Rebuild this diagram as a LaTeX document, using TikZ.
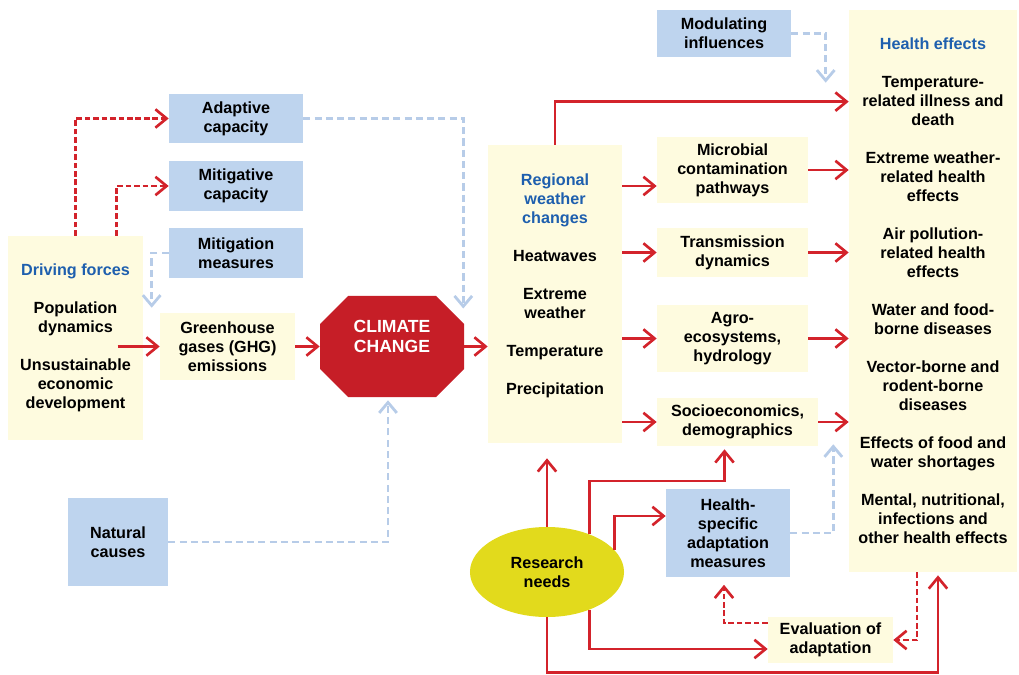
\documentclass[tikz,border=0pt]{standalone}
\usepackage{fontspec}
\setmainfont{Liberation Sans}
\usepackage{xcolor}
\usepackage{tikz}
\usetikzlibrary{calc,arrows,arrows.meta,positioning,shapes,shapes.geometric}
\definecolor{cream}{HTML}{FEFBDF}
\definecolor{paleblue}{HTML}{BED4EE}
\definecolor{linkred}{HTML}{D3232B}
\definecolor{linkblue}{HTML}{B7CCE8}
\definecolor{titleblue}{HTML}{1E5FAE}
\definecolor{stopred}{HTML}{C61E27}
\definecolor{needyellow}{HTML}{E2DA1C}
\tikzstyle{factor} = [rectangle, fill=cream, align=center, inner sep=0pt]
\tikzstyle{modifier} = [rectangle, fill=paleblue, align=center, inner sep=0pt]
\tikzstyle{arrow} = [line width=1.9pt, draw=linkred, -{Straight Barb[length=2.8mm,width=4.6mm]}]
\tikzstyle{dasharrow} = [arrow, dash pattern=on 4pt off 2pt]
\tikzstyle{softarrow} = [line width=2pt, draw=linkblue, dash pattern=on 5pt off 3pt, -{Straight Barb[length=2.6mm,width=4.4mm]}]

\begin{document}
\begin{tikzpicture}
	[x=0.025cm, y=-0.025cm, every node/.style={font=\fontsize{11.5}{13.5}\selectfont\bfseries}]
	\useasboundingbox (0,0) rectangle (1019,675);
	% left side
	\node[factor, minimum width=3.375cm, minimum height=5.1cm] (drv) at (75.5,338)
		{\textcolor{titleblue}{Driving forces}\\[13.5pt]Population\\dynamics\\[13.5pt]Unsustainable\\economic\\development};
	\node[modifier, minimum width=3.35cm, minimum height=1.225cm] (adp) at (236,118.5) {Adaptive\\capacity};
	\node[modifier, minimum width=3.35cm, minimum height=1.225cm] (mtc) at (236,186) {Mitigative\\capacity};
	\node[modifier, minimum width=3.35cm, minimum height=1.225cm] (mtm) at (236,253) {Mitigation\\measures};
	\node[factor, minimum width=3.375cm, minimum height=1.675cm] (ghg) at (227.5,346.5) {Greenhouse\\gases (GHG)\\emissions};
	% stop sign
	\fill[stopred] (320,324) -- (348,296) -- (436,296) -- (464,324) -- (464,369) -- (436,397) -- (348,397) -- (320,369) -- cycle;
	\node[text=white, align=center, minimum width=3.6cm, minimum height=2.525cm, inner sep=0pt,
		font=\fontsize{12.5}{14.5}\selectfont\bfseries] (cc) at (392,346.5) {CLIMATE\\CHANGE\\\mbox{}};
	\node[modifier, minimum width=2.5cm, minimum height=2.2cm] (nat) at (118,542) {Natural\\causes};
	% right side
	\node[modifier, minimum width=3.35cm, minimum height=1.175cm] (mod) at (724,33.5) {Modulating\\influences};
	\node[factor, minimum width=3.35cm, minimum height=7.45cm] (reg) at (555,294)
		{\textcolor{titleblue}{Regional}\\\textcolor{titleblue}{weather}\\\textcolor{titleblue}{changes}\\[13.5pt]Heatwaves\\[13.5pt]Extreme\\weather\\[13.5pt]Temperature\\[13.5pt]Precipitation\\\mbox{}};
	\node[factor, minimum width=3.775cm, minimum height=1.65cm] (mic) at (732.5,170) {Microbial\\contamination\\pathways};
	\node[factor, minimum width=3.775cm, minimum height=1.225cm] (trn) at (732.5,252.5) {Transmission\\dynamics};
	\node[factor, minimum width=3.775cm, minimum height=1.675cm] (agr) at (732.5,338.5) {Agro-\\ecosystems,\\hydrology};
	\node[factor, minimum width=4.025cm, minimum height=1.2cm] (soc) at (737.5,422) {Socioeconomics,\\demographics};
	\node[modifier, minimum width=3.1cm, minimum height=2.175cm] (hsa) at (728,533) {Health-\\specific\\adaptation\\measures};
	\node[factor, minimum width=3.125cm, minimum height=1.125cm] (evl) at (830.5,640) {Evaluation of\\adaptation};
	\node[ellipse, fill=needyellow, align=center, minimum width=3.85cm, minimum height=2.25cm, inner sep=0pt] (res) at (547,572) {Research\\needs};
	\node[factor, minimum width=4.2cm, minimum height=14.05cm] (hlth) at (933,291)
		{\textcolor{titleblue}{Health effects}\\[13.5pt]Temperature-\\related illness and\\death\\[13.5pt]Extreme weather-\\related health\\effects\\[13.5pt]Air pollution-\\related health\\effects\\[13.5pt]Water and food-\\borne diseases\\[13.5pt]Vector-borne and\\rodent-borne\\diseases\\[13.5pt]Effects of food and\\water shortages\\[13.5pt]Mental, nutritional,\\infections and\\other health effects};

	% drivers to climate change
	\draw[dasharrow] (drv.north) |- (adp.west);
	\draw[dasharrow] ($(drv.north)+(41,0)$) |- (mtc.west);
	\draw[softarrow] (mtm.west) -| ($(ghg.north west)+(-8,-5)$);
	\draw[arrow] ($(ghg.west)+(-42,0)$) -- (ghg.west);
	\draw[arrow] (ghg.east) -- (cc.west);
	\draw[softarrow] (adp.east) -| ($(cc.east)+(-1,-38)$);
	\draw[softarrow] (nat.east) -| ($(cc.south)+(-4,3)$);
	\draw[arrow] (cc.east) -- (cc.east -| reg.west);

	% weather to health effects
	\draw[softarrow] (mod.east) -| ($(hlth.north west)+(-23,73)$);
	\draw[arrow] (reg.north) |- ($(hlth.north west)+(0,92)$);
	\draw[arrow] ($(reg.east |- mic.west)+(0,16)$) -- ($(mic.west)+(0,16)$);
	\draw[arrow] (mic.east) -- (mic.east -| hlth.west);
	\draw[arrow] (reg.east |- trn.west) -- (trn.west);
	\draw[arrow] (trn.east) -- (trn.east -| hlth.west);
	\draw[arrow] (reg.east |- agr.west) -- (agr.west);
	\draw[arrow] (agr.east) -- (agr.east -| hlth.west);
	\draw[arrow] (reg.east |- soc.west) -- (soc.west);
	\draw[arrow] (soc.east) -- (soc.east -| hlth.west);
	\draw[softarrow] (hsa.east) -| ($(soc.south east)+(15,-2)$);

	% research needs and evaluation
	\draw[arrow] (res.north) -- ($(res.north |- reg.south)+(0,15)$);
	\draw[arrow] (res.42) -- ++(0,-53) -| ($(soc.south)+(-13,3)$);
	\draw[arrow] (res.18) |- ($(hsa.west)+(0,-17)$);
	\draw[arrow] (res.-42) |- ($(evl.west)+(0,9)$);
	\draw[arrow] (res.south) -- ($(res.south)+(0,55)$) -| ($(hlth.south)+(5,3)$);
	\draw[dasharrow] ($(evl.west)+(0,-17)$) -| ($(hsa.south)+(-4,8)$);
	\draw[dasharrow] ($(hlth.south)+(-16,0)$) |- (evl.east);
\end{tikzpicture}
\end{document}
